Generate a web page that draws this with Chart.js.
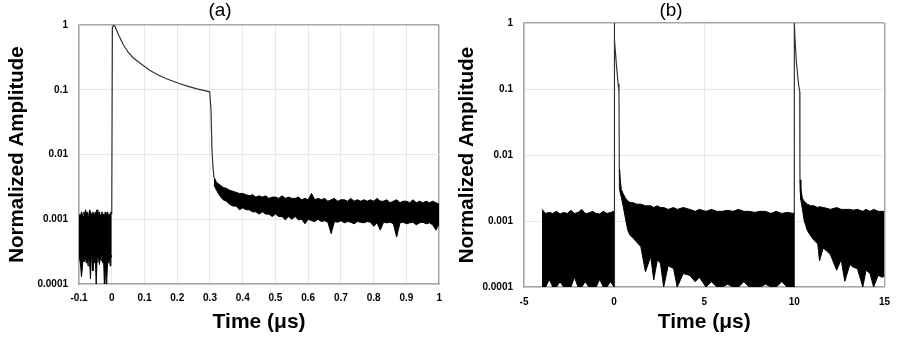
<!DOCTYPE html>
<html>
<head>
<meta charset="utf-8">
<script src="https://cdn.jsdelivr.net/npm/chart.js@4.4.1/dist/chart.umd.min.js"></script>
<style>
body{margin:0;background:#fff;}
#wrap{position:relative;width:899px;height:340px;}
#grafA{position:absolute;left:0;top:0;}
#grafB{position:absolute;left:450px;top:0;}
</style>
</head>
<body>
<div id="wrap">
<canvas id="grafA" width="450" height="340"></canvas>
<canvas id="grafB" width="449" height="340"></canvas>
</div>
<script>
const yTicks = [0.0001, 0.001, 0.01, 0.1, 1];
const yTickLabels = ["0.0001", "0.001", "0.01", "0.1", "1"];
const aXTickLabels = ["-0.1", "0", "0.1", "0.2", "0.3", "0.4", "0.5", "0.6", "0.7", "0.8", "0.9", "1"];
const bXTickLabels = ["-5", "0", "5", "10", "15"];

// (a) ruido antes del pulso
const aPreX = [-0.1, -0.0975, -0.095, -0.0925, -0.09, -0.0875, -0.085, -0.0825, -0.08, -0.0775, -0.075, -0.0725, -0.07, -0.0675, -0.065, -0.0625, -0.06, -0.0575, -0.055, -0.0525, -0.05, -0.0475, -0.045, -0.0425, -0.04, -0.0375, -0.035, -0.0325, -0.03, -0.0275, -0.025, -0.0225, -0.02, -0.0175, -0.015, -0.0125, -0.01, -0.0075, -0.005, -0.0025, 0];
const aPreHi = [0.0011, 0.0012, 0.0011, 0.0013, 0.0012, 0.0011, 0.0013, 0.0012, 0.0014, 0.0012, 0.0013, 0.0011, 0.0012, 0.0014, 0.0013, 0.0012, 0.0012, 0.0013, 0.0011, 0.0012, 0.0013, 0.0012, 0.0014, 0.0012, 0.0012, 0.0013, 0.0011, 0.0012, 0.0013, 0.0012, 0.0012, 0.0011, 0.0013, 0.0012, 0.0012, 0.0013, 0.0011, 0.0012, 0.0012, 0.0013, 0.0012];
const aPreLo = [0.00026, 0.00024, 0.00019, 0.00013, 0.00017, 0.00026, 0.00022, 0.00028, 0.00024, 0.00021, 0.00026, 0.00019, 0.00025, 0.00022, 0.00012, 0.00024, 0.00027, 0.00016, 0.00025, 0.00021, 0.00026, 0.0001, 0.00022, 0.00027, 0.00024, 0.0002, 0.00026, 0.00023, 0.00027, 0.00021, 0.00025, 0.0001, 0.00023, 0.0001, 0.00012, 0.00024, 0.00021, 0.00027, 0.00019, 0.00025, 0.00028];
// (a) pulso
const aPulsoX = [0, 0.002, 0.005, 0.01, 0.02, 0.035, 0.05, 0.066, 0.09, 0.116, 0.14, 0.167, 0.2, 0.228, 0.26, 0.299, 0.303, 0.306, 0.309, 0.312];
const aPulsoY = [0.0012, 0.9, 1.0, 0.95, 0.72, 0.5, 0.38, 0.31, 0.25, 0.2, 0.17, 0.148, 0.128, 0.115, 0.103, 0.093, 0.05, 0.012, 0.0065, 0.0045];
// (a) ruido despues del pulso
const aPostX = [0.312, 0.32, 0.33, 0.34, 0.35, 0.36, 0.37, 0.38, 0.39, 0.4, 0.41, 0.42, 0.43, 0.44, 0.45, 0.46, 0.47, 0.48, 0.49, 0.5, 0.51, 0.52, 0.53, 0.54, 0.55, 0.56, 0.57, 0.58, 0.59, 0.6, 0.61, 0.62, 0.63, 0.64, 0.65, 0.66, 0.67, 0.68, 0.69, 0.7, 0.71, 0.72, 0.73, 0.74, 0.75, 0.76, 0.77, 0.78, 0.79, 0.8, 0.81, 0.82, 0.83, 0.84, 0.85, 0.86, 0.87, 0.88, 0.89, 0.9, 0.91, 0.92, 0.93, 0.94, 0.95, 0.96, 0.97, 0.98, 0.99, 1.0];
const aPostHi = [0.0045, 0.0037, 0.0034, 0.0031, 0.003, 0.0028, 0.0027, 0.0026, 0.0025, 0.0025, 0.0024, 0.0023, 0.0024, 0.0022, 0.0023, 0.0022, 0.0023, 0.0021, 0.0022, 0.0022, 0.0021, 0.0023, 0.0021, 0.0022, 0.0021, 0.0021, 0.0022, 0.002, 0.0021, 0.002, 0.0025, 0.002, 0.0021, 0.002, 0.0021, 0.0019, 0.002, 0.0021, 0.0019, 0.002, 0.002, 0.0019, 0.0021, 0.0019, 0.002, 0.0019, 0.002, 0.0019, 0.002, 0.0019, 0.0021, 0.0019, 0.0019, 0.002, 0.0018, 0.0019, 0.002, 0.0018, 0.0019, 0.0019, 0.0018, 0.002, 0.0018, 0.0019, 0.0018, 0.0019, 0.0018, 0.0019, 0.0018, 0.0017];
const aPostLo = [0.0034, 0.0028, 0.0023, 0.002, 0.0019, 0.0017, 0.0016, 0.0016, 0.0014, 0.0015, 0.0014, 0.0014, 0.0013, 0.0013, 0.0012, 0.0013, 0.0012, 0.0012, 0.0011, 0.0012, 0.0011, 0.0011, 0.00098, 0.0011, 0.001, 0.0011, 0.00098, 0.001, 0.00085, 0.001, 0.00095, 0.00092, 0.001, 0.00092, 0.00095, 0.0009, 0.0006, 0.00092, 0.0009, 0.00095, 0.00088, 0.00092, 0.0009, 0.00085, 0.00092, 0.0009, 0.00088, 0.00092, 0.0009, 0.00078, 0.00088, 0.00068, 0.0009, 0.00088, 0.0009, 0.00085, 0.00053, 0.00088, 0.0009, 0.00085, 0.00088, 0.0009, 0.00082, 0.00088, 0.0009, 0.00085, 0.00088, 0.00082, 0.00068, 0.00085];

// (b) ruido antes del primer pulso
const bPreX = [-4, -3.8, -3.6, -3.4, -3.2, -3, -2.8, -2.6, -2.4, -2.2, -2, -1.8, -1.6, -1.4, -1.2, -1, -0.8, -0.6, -0.4, -0.2, 0];
const bPreHi = [0.0015, 0.0013, 0.00135, 0.0013, 0.0014, 0.00128, 0.00135, 0.0013, 0.00145, 0.0013, 0.00135, 0.0015, 0.0013, 0.00132, 0.0014, 0.0013, 0.00128, 0.0014, 0.0013, 0.00135, 0.0014];
const bPreLo = [0.0001, 0.0001, 0.00013, 0.0001, 0.0001, 0.00012, 0.0001, 0.0001, 0.0001, 0.00014, 0.0001, 0.0001, 0.00012, 0.0001, 0.0001, 0.0001, 0.00013, 0.0001, 0.0001, 0.00012, 0.0001];
// (b) pulsos
const bPulso1X = [0, 0, 0.04, 0.12, 0.22, 0.27, 0.29, 0.3];
const bPulso1Y = [0.0001, 1, 0.55, 0.25, 0.12, 0.09, 0.006, 0.003];
const bPulso2X = [10, 10, 10.04, 10.12, 10.23, 10.3, 10.31, 10.32];
const bPulso2Y = [0.0001, 1, 0.55, 0.245, 0.12, 0.09, 0.006, 0.003];
// (b) ruido despues de cada pulso
const bPost1X = [0.3, 0.35, 0.4, 0.5, 0.6, 0.76, 0.9, 1.03, 1.25, 1.48, 1.74, 2.03, 2.2, 2.4, 2.57, 2.75, 3.0, 3.3, 3.5, 3.84, 4.2, 4.5, 4.73, 5.1, 5.4, 5.7, 6.0, 6.3, 6.6, 6.9, 7.2, 7.5, 7.8, 8.1, 8.4, 8.7, 9.0, 9.3, 9.6, 10];
const bPost1Hi = [0.006, 0.004, 0.003, 0.0026, 0.0023, 0.002, 0.0019, 0.0019, 0.0018, 0.0018, 0.0017, 0.0017, 0.0016, 0.0017, 0.0016, 0.0016, 0.0015, 0.0016, 0.0015, 0.0016, 0.0015, 0.0014, 0.0015, 0.0014, 0.0015, 0.0014, 0.0014, 0.00145, 0.0014, 0.0015, 0.0014, 0.0014, 0.00135, 0.0014, 0.0014, 0.0013, 0.0014, 0.0013, 0.00135, 0.0013];
const bPost1Lo = [0.003, 0.0026, 0.0023, 0.0017, 0.0012, 0.00072, 0.0006, 0.00056, 0.00048, 0.00041, 0.00017, 0.00029, 0.000128, 0.00026, 0.00023, 0.0001, 0.00021, 0.00019, 0.0001, 0.00016, 0.00015, 0.00012, 0.00014, 0.0001, 0.00012, 0.0001, 0.0001, 0.00011, 0.0001, 0.0001, 0.00012, 0.0001, 0.0001, 0.0001, 0.00011, 0.0001, 0.0001, 0.00012, 0.0001, 0.0001];
const bPost2X = [10.32, 10.36, 10.45, 10.54, 10.72, 10.9, 11.09, 11.3, 11.4, 11.6, 11.8, 12.0, 12.35, 12.6, 12.8, 13.08, 13.26, 13.5, 13.8, 13.98, 14.2, 14.4, 14.65, 14.9, 15];
const bPost2Hi = [0.0042, 0.003, 0.0022, 0.002, 0.0018, 0.0017, 0.0017, 0.0016, 0.00165, 0.0016, 0.00156, 0.0015, 0.0016, 0.0015, 0.0015, 0.0015, 0.00146, 0.0015, 0.0014, 0.0015, 0.0014, 0.0015, 0.0014, 0.0014, 0.0014];
const bPost2Lo = [0.003, 0.0021, 0.0015, 0.00103, 0.00072, 0.0006, 0.00051, 0.00045, 0.00025, 0.00039, 0.00035, 0.00031, 0.00018, 0.00026, 0.000122, 0.00022, 0.0002, 0.00019, 0.0001, 0.00018, 0.00016, 0.0001, 0.00015, 0.00014, 0.00015];

const fuente = "'Liberation Sans', Arial, sans-serif";
const grisBorde = "#a6a6a6";
const grisGrid = "#e8e8e8";

const puntos = (xs, ys) => xs.map((x, i) => ({x: x, y: ys[i]}));

const banda = (xs, hi, lo) => [
  {data: puntos(xs, hi), borderColor: "#000", backgroundColor: "#000", borderWidth: 1, fill: "+1"},
  {data: puntos(xs, lo), borderColor: "#000", borderWidth: 1, fill: false}
];
const curva = (xs, ys) => ({data: puntos(xs, ys), borderColor: "#333", borderWidth: 1.2, fill: false});

const CrearGrafico = (canvas, cfg) => new Chart(canvas, {
  type: "line",
  data: {datasets: cfg.datasets},
  options: {
    responsive: false,
    animation: false,
    devicePixelRatio: 1,
    elements: {point: {radius: 0}, line: {tension: 0}},
    layout: {padding: {left: 0, right: cfg.padDer, top: 0, bottom: 0}},
    plugins: {
      legend: {display: false},
      tooltip: {enabled: false},
      title: {
        display: true,
        text: cfg.titulo,
        color: "#000",
        font: {family: fuente, size: 19, weight: "normal", lineHeight: 1},
        padding: {top: 1.5, bottom: cfg.padTitulo}
      }
    },
    scales: {
      x: {
        type: "linear",
        min: cfg.xMin,
        max: cfg.xMax,
        ticks: {
          stepSize: cfg.xPaso,
          color: "#000",
          padding: cfg.padTickX,
          maxRotation: 0,
          font: {family: fuente, size: 10, weight: "bold"},
          callback: (v, i) => cfg.xEtiquetas[i]
        },
        grid: {
          drawTicks: false,
          color: (c) => (c.tick && Math.abs(c.tick.value - cfg.xMax) < 1e-9) ? grisBorde : grisGrid,
          lineWidth: (c) => (c.tick && Math.abs(c.tick.value - cfg.xMax) < 1e-9) ? 1.5 : 1
        },
        border: {color: grisBorde, width: 1.5},
        title: {display: true, text: "Time (μs)", color: "#000", font: {family: fuente, size: 21, weight: "bold"}, padding: {top: 0, bottom: 5}},
        afterFit: (s) => { s.height = cfg.altoX; }
      },
      y: {
        type: "logarithmic",
        min: 0.0001,
        max: 1,
        afterBuildTicks: (s) => { s.ticks = yTicks.map((v) => ({value: v})); },
        ticks: {
          color: "#000",
          padding: 11,
          font: {family: fuente, size: 10, weight: "bold"},
          callback: (v, i) => yTickLabels[i]
        },
        grid: {
          drawTicks: false,
          color: (c) => (c.tick && c.tick.value === 1) ? grisBorde : grisGrid,
          lineWidth: (c) => (c.tick && c.tick.value === 1) ? 1.5 : 1
        },
        border: {color: grisBorde, width: 1.5},
        title: {display: true, text: "Normalized Amplitude", color: "#000", font: {family: fuente, size: 20.5, weight: "bold"}, padding: {top: 5, bottom: 0}},
        afterFit: (s) => { s.width = cfg.anchoY; }
      }
    }
  }
});

CrearGrafico(document.querySelector("#grafA"), {
  titulo: "(a)",
  xMin: -0.1, xMax: 1, xPaso: 0.1, xEtiquetas: aXTickLabels,
  padDer: 10, padTitulo: 4.5, padTickX: 8, altoX: 56, anchoY: 79,
  datasets: [
    ...banda(aPreX, aPreHi, aPreLo),
    ...banda(aPostX, aPostHi, aPostLo),
    curva(aPulsoX, aPulsoY)
  ]
});

CrearGrafico(document.querySelector("#grafB"), {
  titulo: "(b)",
  xMin: -5, xMax: 15, xPaso: 5, xEtiquetas: bXTickLabels,
  padDer: 7, padTitulo: 2.5, padTickX: 9, altoX: 53, anchoY: 74,
  datasets: [
    ...banda(bPreX, bPreHi, bPreLo),
    ...banda(bPost1X, bPost1Hi, bPost1Lo),
    ...banda(bPost2X, bPost2Hi, bPost2Lo),
    curva(bPulso1X, bPulso1Y),
    curva(bPulso2X, bPulso2Y)
  ]
});
</script>
</body>
</html>
